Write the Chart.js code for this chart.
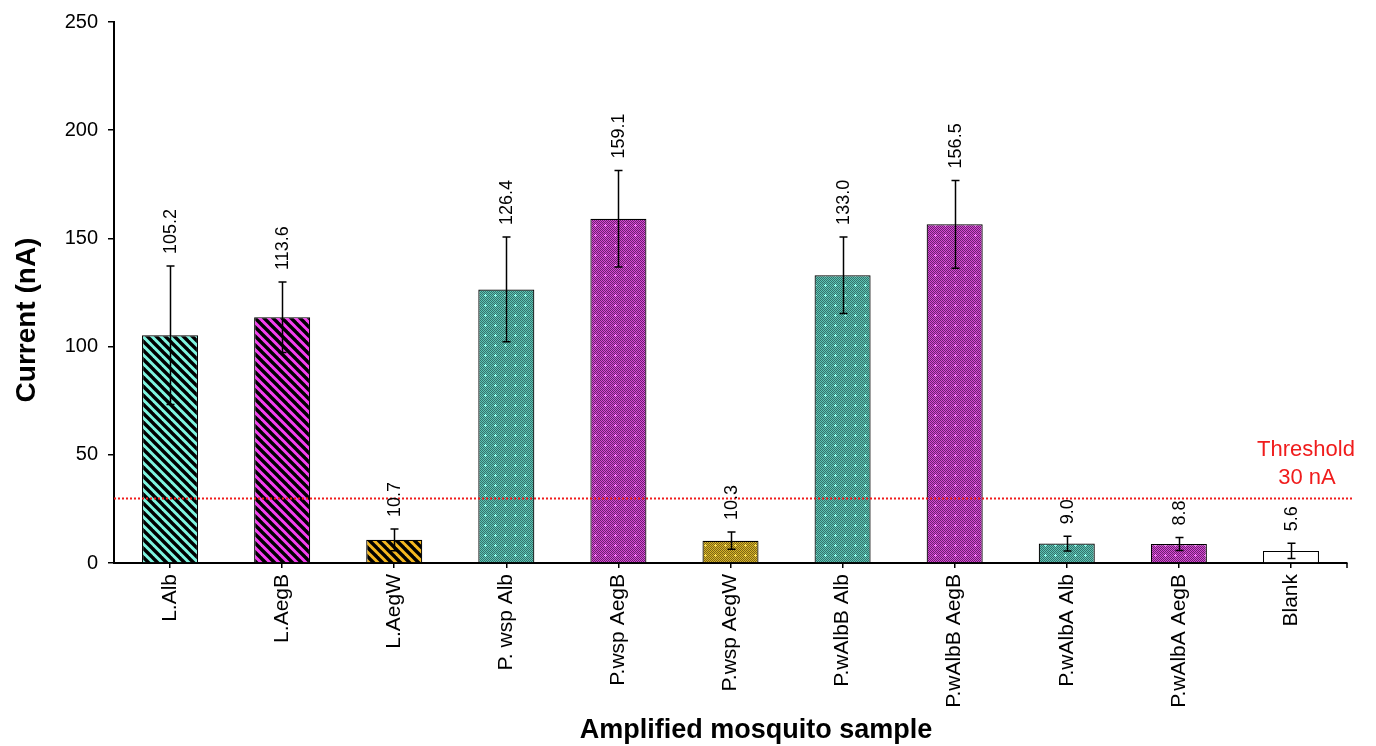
<!DOCTYPE html>
<html>
<head>
<meta charset="utf-8">
<script src="https://cdn.jsdelivr.net/npm/chart.js@4/dist/chart.umd.min.js"></script>
<style>
  html, body { margin: 0; padding: 0; background: #fff; }
  #wrap { width: 1376px; height: 746px; }
</style>
</head>
<body>
<div id="wrap"><canvas id="myChart" width="1376" height="746"></canvas></div>
<script>
// data
const samples = ['L.Alb', 'L.AegB', 'L.AegW', 'P. wsp Alb', 'P.wsp AegB', 'P.wsp AegW',
  'P.wAlbB Alb', 'P.wAlbB AegB', 'P.wAlbA Alb', 'P.wAlbA AegB', 'Blank'];
const currents = [105.2, 113.6, 10.7, 126.4, 159.1, 10.3, 133.0, 156.5, 9.0, 8.8, 5.6];
const errors = [32.0, 16.3, 5.0, 24.2, 22.3, 4.0, 17.7, 20.3, 3.4, 3.0, 3.5];
const threshold = 30;
const yTicks = [0, 50, 100, 150, 200, 250];

const FONT = 'Arial, "Liberation Sans", sans-serif';

// fill styles
function stripes(bg) {
    const c = document.createElement('canvas');
    c.width = 9; c.height = 9;
    const g = c.getContext('2d');
    g.fillStyle = bg;
    g.fillRect(0, 0, 9, 9);
    g.strokeStyle = '#000';
    g.lineWidth = 3.4;
    for (const k of [-9, 0, 9]) {
        g.beginPath();
        g.moveTo(-2, -2 + k);
        g.lineTo(11, 11 + k);
        g.stroke();
    }
    return g.createPattern(c, 'repeat');
}

function dots(mid, dark, bright) {
    const c = document.createElement('canvas');
    c.width = 10; c.height = 10;
    const g = c.getContext('2d');
    g.fillStyle = mid;
    g.fillRect(0, 0, 10, 10);
    g.fillStyle = dark;
    for (let x = 0; x < 10; x++) {
        for (let y = 0; y < 10; y++) {
            if ((x + y) % 2 === 0) g.fillRect(x, y, 1, 1);
        }
    }
    g.fillStyle = bright;
    g.fillRect(4, 5, 3, 1);
    g.fillRect(5, 4, 1, 3);
    return g.createPattern(c, 'repeat');
}

const ctx = document.getElementById('myChart').getContext('2d');

const tealDots = dots('#5ec2b3', '#33746c', '#8affec');
const purpleDots = dots('#d44ad2', '#701f72', '#ff70ff');
const oliveDots = dots('#d6b22a', '#7c6614', '#ffdf4a');
const fills = [
    stripes('#7ff5e0'), stripes('#f53ff0'), stripes('#f5b820'),
    tealDots, purpleDots, oliveDots,
    tealDots, purpleDots,
    tealDots, purpleDots, '#ffffff'
];

const extras = {
    id: 'extras',
    afterDatasetsDraw(chart) {
        const c = chart.ctx;
        const xs = chart.scales.x;
        const ys = chart.scales.y;
        const meta = chart.getDatasetMeta(0);
        c.save();

        // threshold line
        const ty = Math.round(ys.getPixelForValue(threshold)) + 0.5;
        c.strokeStyle = '#f01c1c';
        c.lineWidth = 2;
        c.setLineDash([2, 2]);
        c.beginPath();
        c.moveTo(xs.left, ty);
        c.lineTo(xs.right + 5, ty);
        c.stroke();
        c.setLineDash([]);
        c.fillStyle = '#f01c1c';
        c.font = '22px ' + FONT;
        c.textAlign = 'center';
        c.textBaseline = 'middle';
        c.fillText('Threshold', 1306, 450);
        c.fillText('30 nA', 1307, 478);

        // error bars and value labels
        c.strokeStyle = '#000';
        c.lineWidth = 1.5;
        c.fillStyle = '#000';
        c.font = '18px ' + FONT;
        meta.data.forEach((bar, i) => {
            const x = Math.round(bar.x) + 0.5;
            const top = ys.getPixelForValue(currents[i] + errors[i]);
            const bot = ys.getPixelForValue(currents[i] - errors[i]);
            c.beginPath();
            c.moveTo(x, top); c.lineTo(x, bot);
            c.moveTo(x - 4, top); c.lineTo(x + 4, top);
            c.moveTo(x - 4, bot); c.lineTo(x + 4, bot);
            c.stroke();

            c.save();
            c.translate(x + 1, top - 12);
            c.rotate(-Math.PI / 2);
            c.textAlign = 'left';
            c.textBaseline = 'middle';
            c.fillText(currents[i].toFixed(1), 0, 0);
            c.restore();
        });

        // end tick on x axis
        c.lineWidth = 1.5;
        c.beginPath();
        c.moveTo(xs.right, ys.bottom);
        c.lineTo(xs.right, ys.bottom + 5);
        c.stroke();

        // axis titles
        c.font = 'bold 27px ' + FONT;
        c.textAlign = 'center';
        c.textBaseline = 'middle';
        c.fillText('Amplified mosquito sample', 756, 731);
        c.save();
        c.translate(27, 320);
        c.rotate(-Math.PI / 2);
        c.font = 'bold 28px ' + FONT;
        c.fillText('Current (nA)', 0, 0);
        c.restore();
        c.restore();
    }
};

new Chart(ctx, {
    type: 'bar',
    data: {
        labels: samples,
        datasets: [{
            label: 'Current (nA)',
            data: currents,
            backgroundColor: fills,
            borderColor: '#000',
            borderWidth: 1.2,
            borderSkipped: 'bottom',
            barPercentage: 0.5,
            categoryPercentage: 1.0
        }]
    },
    options: {
        responsive: false,
        animation: false,
        layout: { padding: { left: 10, right: 29, top: 19, bottom: 2 } },
        plugins: {
            legend: { display: false },
            tooltip: { enabled: false }
        },
        scales: {
            x: {
                afterFit: s => { s.height = 181; },
                grid: { drawOnChartArea: false, offset: false, tickLength: 5, color: '#000', lineWidth: 1.5 },
                border: { color: '#000', width: 2 },
                ticks: {
                    color: '#000', minRotation: 90, maxRotation: 90, padding: 6,
                    font: { family: FONT, size: 21 }
                }
            },
            y: {
                min: 0,
                max: 250,
                afterFit: s => { s.width = 104; },
                afterBuildTicks: s => { s.ticks = yTicks.map(v => ({ value: v })); },
                grid: { drawOnChartArea: false, tickLength: 6, color: '#000', lineWidth: 1.5 },
                border: { color: '#000', width: 2 },
                ticks: {
                    color: '#000', padding: 10,
                    font: { family: FONT, size: 20 }
                }
            }
        }
    },
    plugins: [extras]
});
</script>
</body>
</html>
